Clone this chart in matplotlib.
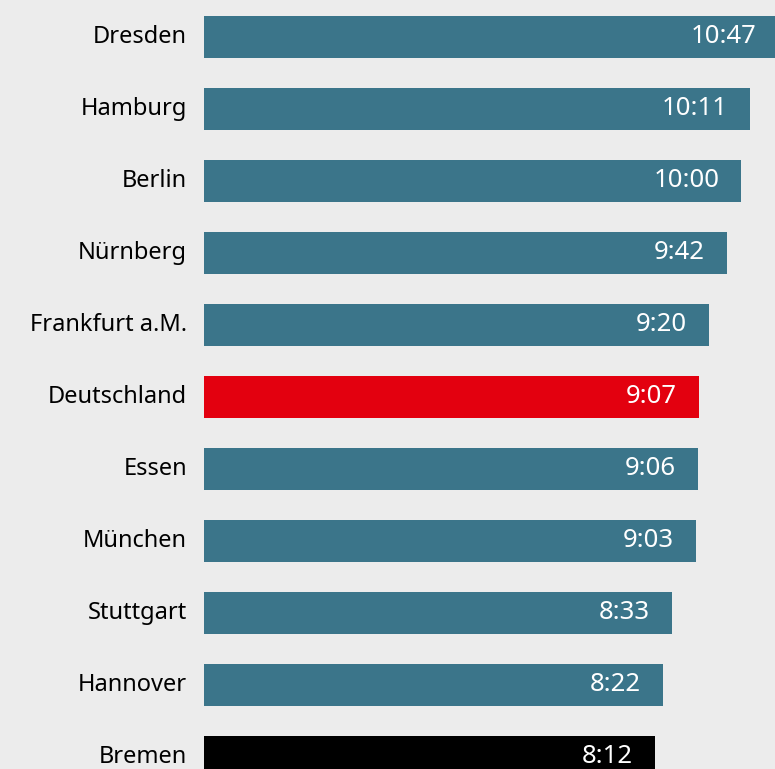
import matplotlib.pyplot as plt
from matplotlib.transforms import ScaledTranslation

cities = ["Dresden", "Hamburg", "Berlin", "Nürnberg", "Frankfurt a.M.", "Deutschland",
          "Essen", "München", "Stuttgart", "Hannover", "Bremen"]
labels = ["10:47", "10:11", "10:00", "9:42", "9:20", "9:07", "9:06", "9:03", "8:33", "8:22", "8:12"]
minutes = [647, 611, 600, 582, 560, 547, 546, 543, 513, 502, 492]
colors = ["#3b758a"] * 5 + ["#e3000f"] + ["#3b758a"] * 4 + ["#000000"]

BG = "#ececec"
base = -72

plt.rcParams['font.family'] = ['Noto Sans', 'DejaVu Sans']

fig = plt.figure(figsize=(7.75, 7.69), dpi=100, facecolor=BG)
ax = fig.add_axes([0.2636, 0, 1 - 0.2636, 1])
ax.set_facecolor(BG)

y = list(range(len(cities)))
widths = [m - base for m in minutes]
ax.barh(y, widths, left=base, height=0.58, color=colors)

for i, (m, lab) in enumerate(zip(minutes, labels)):
    ax.annotate(lab, xy=(m, i), xytext=(-16, 2.2), textcoords='offset points',
                ha='right', va='center_baseline', color='white', fontsize=18.5,
                annotation_clip=False)

ax.set_xlim(base, 642)
ax.set_ylim(10.17, -0.511)
ax.set_yticks(y)
ax.set_yticklabels(cities, fontsize=17, va='center_baseline')
ax.tick_params(axis='y', length=0, pad=12.5)
ax.set_xticks([])
for s in ax.spines.values():
    s.set_visible(False)

# nudge city names up a little
shift = ScaledTranslation(0, 3 / 100, fig.dpi_scale_trans)
for t in ax.get_yticklabels():
    t.set_transform(t.get_transform() + shift)

fig.savefig("out.png", dpi=100, facecolor=BG)
